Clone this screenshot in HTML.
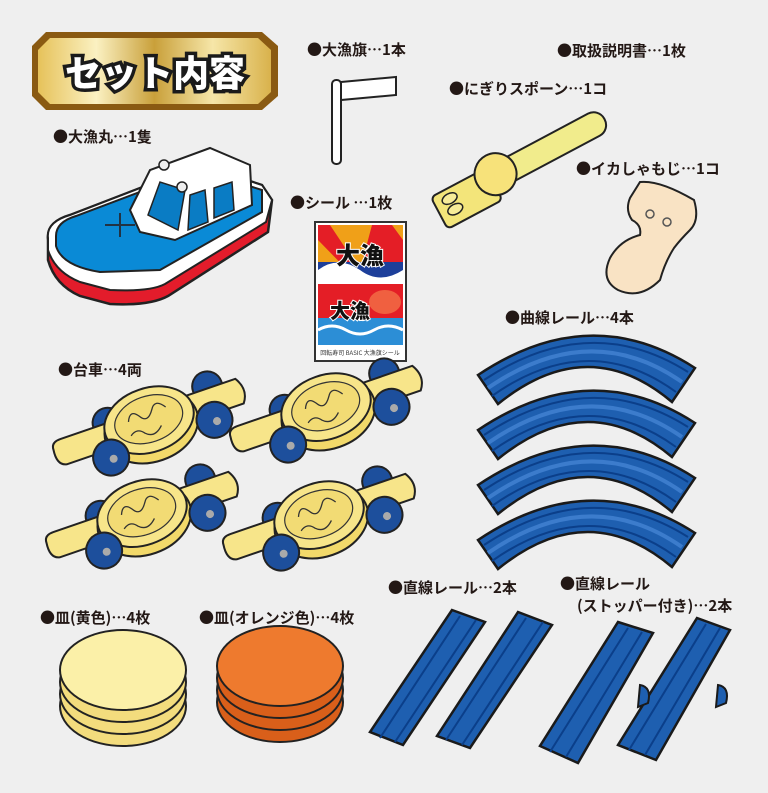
<!DOCTYPE html>
<html><head><meta charset="utf-8"><style>
html,body{margin:0;padding:0;background:#efefef;}
svg{display:block}
.l{font-family:"Noto Sans CJK JP",sans-serif;font-weight:bold;font-size:15px;fill:#231815}
</style></head><body>
<svg width="768" height="793" viewBox="0 0 768 793" xmlns="http://www.w3.org/2000/svg">
<defs>
<linearGradient id="gold" x1="0" x2="1" y1="0" y2="0">
<stop offset="0" stop-color="#e6c25a"/><stop offset="0.25" stop-color="#fbf1c2"/><stop offset="0.5" stop-color="#c9a03a"/><stop offset="0.75" stop-color="#f6e6a8"/><stop offset="1" stop-color="#d9b24c"/></linearGradient>
<g id="cart">
<circle cx="-40" cy="-14" r="15" fill="#1d4f9c" stroke="#222" stroke-width="2"/>
<circle cx="66" cy="-16" r="15" fill="#1d4f9c" stroke="#222" stroke-width="2"/>
<path d="M-100,-6 Q-102,10 -92,12 L95,12 Q104,0 95,-14 L-90,-14 Q-100,-14 -100,-6Z" fill="#f7e58a" stroke="#222" stroke-width="2"/>
<ellipse cx="0" cy="4" rx="48" ry="35" fill="#f2d96a" stroke="#222" stroke-width="2"/>
<ellipse cx="0" cy="-3" rx="46" ry="32" fill="#f7e58a" stroke="#222" stroke-width="2"/>
<ellipse cx="0" cy="-4" rx="35" ry="23" fill="#f2db74" stroke="#333" stroke-width="1.2"/>
<path d="M-20,-8 q5,-12 12,-2 q6,10 14,-2 q6,-10 14,2 M-22,6 q8,-6 14,2 q8,8 18,-2" fill="none" stroke="#333" stroke-width="1.3"/>
<circle cx="-48" cy="20" r="18" fill="#1d4f9c" stroke="#222" stroke-width="2"/>
<circle cx="-46" cy="22" r="4" fill="#aaa"/>
<circle cx="62" cy="18" r="18" fill="#1d4f9c" stroke="#222" stroke-width="2"/>
<circle cx="64" cy="20" r="4" fill="#aaa"/>
</g>
<g id="crail">
<path d="M478,375 Q590,300 695,368 L672,402 Q588,331 498,404 Z" fill="#1e5fb0" stroke="#1a1a1a" stroke-width="2.5"/>
<path d="M484,380 Q590,310 688,372" fill="none" stroke="#0b3f8a" stroke-width="2"/>
<path d="M492,396 Q588,328 676,392" fill="none" stroke="#0b3f8a" stroke-width="2"/>
<path d="M488,388 Q590,318 682,382" fill="none" stroke="#3c7ccc" stroke-width="4"/>
</g>
<g id="plate">
<ellipse cx="0" cy="0" rx="63" ry="40" stroke="#222" stroke-width="2"/>
</g>
</defs>

<polygon points="46,32 262,32 278,46 278,96 262,110 46,110 32,96 32,46" fill="#8a5a12"/>
<polygon points="50,38 258,38 271,50 271,92 258,104 50,104 38,92 38,50" fill="url(#gold)"/>
<text x="155" y="86" text-anchor="middle" font-family="'Noto Sans CJK JP',sans-serif" font-weight="900" font-size="36" fill="#fff" stroke="#1a1a1a" stroke-width="7" paint-order="stroke">セット内容</text>

<text class="l" x="307" y="55">●大漁旗…1本</text>
<text class="l" x="557" y="56">●取扱説明書…1枚</text>
<text class="l" x="449" y="94">●にぎりスポーン…1コ</text>
<text class="l" x="53" y="142">●大漁丸…1隻</text>
<text class="l" x="576" y="174">●イカしゃもじ…1コ</text>
<text class="l" x="290" y="208">●シール …1枚</text>
<text class="l" x="505" y="323">●曲線レール…4本</text>
<text class="l" x="58" y="375">●台車…4両</text>
<text class="l" x="40" y="623">●皿(黄色)…4枚</text>
<text class="l" x="199" y="623">●皿(オレンジ色)…4枚</text>
<text class="l" x="388" y="593">●直線レール…2本</text>
<text class="l" x="560" y="589">●直線レール</text>
<text class="l" x="577" y="611">(ストッパー付き)…2本</text>

<rect x="332" y="80" width="9" height="84" rx="4" fill="#fff" stroke="#222" stroke-width="2"/>
<polygon points="341,82 396,77 396,95 341,100" fill="#fff" stroke="#222" stroke-width="2"/>

<path d="M48,240 Q46,222 70,215 L200,165 L262,185 L272,200 L268,232 L168,296 Q150,306 110,304 L80,296 Q55,285 48,260Z" fill="#e31c2b" stroke="#222" stroke-width="2.5"/>
<path d="M48,238 Q46,222 70,215 L200,165 L262,185 L272,200 L266,222 L165,284 Q150,292 110,290 L80,282 Q55,272 48,250Z" fill="#fff" stroke="#222" stroke-width="2"/>
<path d="M56,236 Q56,222 76,216 L198,170 L262,190 L262,212 L160,270 L100,272 Q62,266 56,246Z" fill="#0a8ad6" stroke="#222" stroke-width="2"/>
<path d="M130,210 L150,170 L210,148 L250,165 L252,205 L175,240 L140,232Z" fill="#fff" stroke="#222" stroke-width="2"/>
<path d="M148,215 L160,182 L185,190 L178,230Z M190,195 L205,190 L208,222 L188,230Z M214,188 L232,182 L234,210 L214,218Z" fill="#0a7cc4" stroke="#222" stroke-width="1.5"/>
<circle cx="182" cy="187" r="5" fill="#eee" stroke="#222" stroke-width="1.5"/>
<circle cx="164" cy="165" r="5" fill="#eee" stroke="#222" stroke-width="1.5"/>
<path d="M105,225 l30,0 M120,213 l0,24" stroke="#234" stroke-width="2" fill="none"/>

<rect x="315" y="222" width="91" height="139" fill="#fff" stroke="#333" stroke-width="2"/>
<rect x="318" y="225" width="85" height="58" fill="#f0a018"/>
<polygon points="360,283 318,240 318,225 330,225 360,270 372,225 392,225 403,240 403,283" fill="#e41e26"/>
<rect x="318" y="262" width="85" height="22" fill="#1d3f9a"/>
<path d="M318,270 q20,-15 42,0 q20,15 43,0 v14 h-85z" fill="#fff"/>
<rect x="318" y="284" width="85" height="36" fill="#e41e26"/>
<rect x="318" y="318" width="85" height="27" fill="#2c8ed6"/>
<path d="M318,330 q14,-8 28,0 q14,8 28,0 q14,-8 29,0" stroke="#fff" stroke-width="3" fill="none"/>
<rect x="318" y="345" width="85" height="13" fill="#fff"/>
<text x="360" y="264" text-anchor="middle" font-family="'Noto Sans CJK JP',sans-serif" font-weight="900" font-size="24" fill="#111" stroke="#fff" stroke-width="2" paint-order="stroke">大漁</text>
<text x="350" y="318" text-anchor="middle" font-family="'Noto Sans CJK JP',sans-serif" font-weight="900" font-size="20" fill="#111" stroke="#fff" stroke-width="2" paint-order="stroke">大漁</text>
<ellipse cx="385" cy="302" rx="16" ry="12" fill="#f06040"/>
<text x="360" y="355" text-anchor="middle" font-family="'Noto Sans CJK JP',sans-serif" font-size="6" fill="#333">回転寿司 BASIC 大漁旗シール</text>

<g transform="translate(470,190) rotate(-28)">
<rect x="20" y="-12" width="132" height="25" rx="12" fill="#f1ec8c" stroke="#222" stroke-width="2"/>
<rect x="-38" y="-12" width="62" height="36" rx="5" fill="#f3e57a" stroke="#222" stroke-width="2"/>
<circle cx="30" cy="-2" r="21" fill="#f7e27a" stroke="#222" stroke-width="2"/>
<ellipse cx="-22" cy="-2" rx="8" ry="5" fill="#f7ec98" stroke="#222" stroke-width="1.5"/>
<ellipse cx="-22" cy="10" rx="8" ry="5" fill="#f7ec98" stroke="#222" stroke-width="1.5"/>
</g>

<path d="M640,182 Q660,180 694,200 Q700,220 690,230 Q680,240 674,248 Q665,262 660,280 Q640,300 618,290 Q600,280 610,258 Q620,240 640,235 Q642,225 632,220 Q625,210 630,198Z" fill="#f9e3c4" stroke="#222" stroke-width="2"/>
<circle cx="650" cy="214" r="4" fill="none" stroke="#555" stroke-width="1.5"/>
<circle cx="667" cy="222" r="4" fill="none" stroke="#555" stroke-width="1.5"/>

<use href="#crail"/>
<use href="#crail" y="55"/>
<use href="#crail" y="110"/>
<use href="#crail" y="165"/>

<use href="#cart" transform="translate(150,423) rotate(-19)"/>
<use href="#cart" transform="translate(327,410) rotate(-19)"/>
<use href="#cart" transform="translate(143,516) rotate(-19)"/>
<use href="#cart" transform="translate(320,518) rotate(-19)"/>

<g fill="#f3dc7d"><use href="#plate" x="123" y="706"/><use href="#plate" x="123" y="694"/><use href="#plate" x="123" y="682"/></g>
<ellipse cx="123" cy="670" rx="63" ry="40" fill="#fbf0a8" stroke="#222" stroke-width="2"/>
<g fill="#d95f1a"><use href="#plate" x="280" y="702"/><use href="#plate" x="280" y="690"/><use href="#plate" x="280" y="678"/></g>
<ellipse cx="280" cy="666" rx="63" ry="40" fill="#ee7a2e" stroke="#222" stroke-width="2"/>

<g fill="#1e5fb0" stroke="#1a1a1a" stroke-width="2.5">
<polygon points="452,610 485,622 403,745 370,732"/>
<polygon points="518,612 552,625 470,748 437,736"/>
<polygon points="618,622 653,633 578,763 540,746"/>
<polygon points="697,618 730,630 656,760 618,745"/>
</g>
<g stroke="#0b3f8a" stroke-width="2" fill="none">
<path d="M460,616 L380,738 M476,620 L395,742 M526,618 L446,740 M543,622 L462,745 M628,628 L550,752 M642,632 L566,757 M706,624 L629,750 M720,628 L645,755"/>
</g>
<path d="M640,685 q12,2 8,18 l-10,4z M718,685 q12,2 8,18 l-10,4z" fill="#1e5fb0" stroke="#1a1a1a" stroke-width="2"/>
</svg>
</body></html>
